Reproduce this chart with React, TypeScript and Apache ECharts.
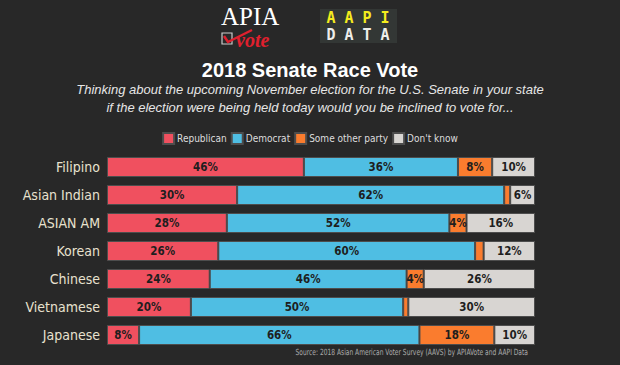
import React, { useEffect, useRef } from "react";
import * as echarts from "echarts";

const categories = ["Filipino", "Asian Indian", "ASIAN AM", "Korean", "Chinese", "Vietnamese", "Japanese"];
const republican = [46, 30.4, 28, 26, 24, 19.6, 7.5];
const democrat = [36, 62.4, 52, 60, 46, 49.6, 65.5];
const otherParty = [8, 1.4, 4, 2, 4, 1.2, 17.5];
const dontKnow = [10, 5.8, 16, 12, 26, 29.6, 9.5];
const seriesNames = ["Republican", "Democrat", "Some other party", "Don't know"];
const colors = ["#f0505f", "#4fbee3", "#fa7c2e", "#d8d5d2"];

const condensed = "'Liberation Sans Narrow', 'DejaVu Sans Condensed', 'Roboto Condensed', Roboto, sans-serif";

export default function App() {
  const ref = useRef<HTMLDivElement>(null);
  useEffect(() => {
    if (!ref.current) return;
    const chart = echarts.init(ref.current, null, { renderer: "svg" });
    const data = [republican, democrat, otherParty, dontKnow];
    chart.setOption({
      animation: false,
      backgroundColor: "#282828",
      legend: {
        top: 127,
        left: "center",
        itemWidth: 11,
        itemHeight: 11,
        itemGap: 4,
        icon: "rect",
        textStyle: { color: "#dddddd", fontSize: 10, fontFamily: condensed, padding: [0, 0, 0, -2] },
        data: seriesNames,
      },
      grid: { left: 107, right: 85, top: 153, bottom: 16, containLabel: false },
      xAxis: { type: "value", min: 0, max: 100, show: false },
      yAxis: {
        type: "category",
        data: categories,
        inverse: true,
        axisLine: { show: false },
        axisTick: { show: false },
        axisLabel: { color: "#e8e2cf", fontSize: 14, fontFamily: condensed, margin: 7 },
      },
      series: seriesNames.map((name, i) => ({
        name,
        type: "bar",
        stack: "total",
        barWidth: 20,
        data: data[i],
        itemStyle: { color: colors[i], borderColor: "#4d4d4d", borderWidth: 1 },
        label: {
          show: true,
          position: "inside",
          color: "#1e1e1e",
          fontWeight: "bold",
          fontSize: 11.5,
          fontFamily: condensed,
          formatter: (p: any) => (p.value >= 3 ? Math.round(p.value) + "%" : ""),
        },
      })),
      graphic: [
        // APIA Vote logo
        { type: "text", x: 221, y: 16, style: { text: "APIA", fill: "#ffffff", font: "25px 'Liberation Serif', serif", lineHeight: 20, verticalAlign: "middle" } },
        { type: "rect", shape: { x: 222, y: 33, width: 10, height: 11 }, style: { fill: "none", stroke: "#cccccc", lineWidth: 1.2 } },
        { type: "polyline", shape: { points: [[224, 36], [228, 42], [252, 30]] }, style: { stroke: "#e0202e", lineWidth: 2.5, fill: "none" } },
        { type: "text", x: 236, y: 39.5, style: { text: "vote", fill: "#e0202e", font: "italic bold 20px 'Liberation Serif', serif", lineHeight: 12, verticalAlign: "middle" } },
        // AAPI DATA logo
        { type: "rect", shape: { x: 320, y: 9, width: 77, height: 34 }, style: { fill: "#333735" } },
        { type: "text", x: 358, y: 18, style: { text: "A A P I", fill: "#f5ec1e", font: "bold 15px 'DejaVu Sans Mono', monospace", align: "center", verticalAlign: "middle" } },
        { type: "text", x: 358, y: 35, style: { text: "D A T A", fill: "#eeeeea", font: "bold 15px 'DejaVu Sans Mono', monospace", align: "center", verticalAlign: "middle" } },
        // Title and subtitle
        { type: "text", x: 310, y: 70, style: { text: "2018 Senate Race Vote", fill: "#ffffff", font: "bold 20px 'Liberation Sans', Arial, sans-serif", align: "center", verticalAlign: "middle" } },
        { type: "text", x: 310, y: 89, style: { text: "Thinking about the upcoming November election for the U.S. Senate in your state", fill: "#e6e6e6", font: "italic 13px 'Liberation Sans', Arial, sans-serif", align: "center", verticalAlign: "middle" } },
        { type: "text", x: 310, y: 107, style: { text: "if the election were being held today would you be inclined to vote for...", fill: "#e6e6e6", font: "italic 13px 'Liberation Sans', Arial, sans-serif", align: "center", verticalAlign: "middle" } },
        // Source
        { type: "text", x: 528, y: 352, scaleX: 0.78, style: { text: "Source: 2018 Asian American Voter Survey (AAVS) by APIAVote and AAPI Data", fill: "#aaaaaa", font: "8.5px " + condensed, align: "right", verticalAlign: "middle" } },
      ],
    });
    return () => chart.dispose();
  }, []);
  return <div ref={ref} style={{ width: 620, height: 365, position: "absolute", left: 0, top: 0 }} />;
}
